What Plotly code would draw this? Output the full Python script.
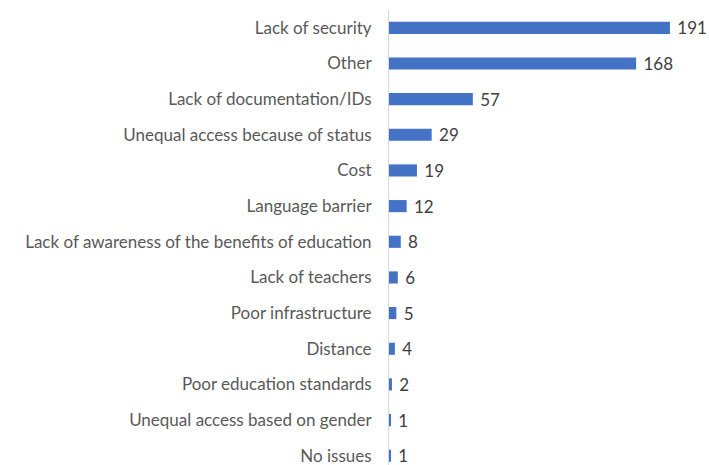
import plotly.graph_objects as go

categories = ["Lack of security", "Other", "Lack of documentation/IDs",
              "Unequal access because of status", "Cost", "Language barrier",
              "Lack of awareness of the benefits of education", "Lack of teachers",
              "Poor infrastructure", "Distance", "Poor education standards",
              "Unequal access based on gender", "No issues"]
values = [191, 168, 57, 29, 19, 12, 8, 6, 5, 4, 2, 1, 1]

FONT = "Lato"

fig = go.Figure(go.Bar(
    y=categories, x=values, orientation="h",
    marker=dict(color="#4472C4", line=dict(width=0)),
    text=[" " + str(v) for v in values], textposition="outside",
    textfont=dict(color="#404040", size=17, family=FONT),
    constraintext="none",
    cliponaxis=False, width=0.34,
))

fig.update_layout(
    width=709, height=465,
    margin=dict(l=389, r=17, t=10, b=0, autoexpand=False),
    paper_bgcolor="white", plot_bgcolor="white",
    font=dict(family=FONT, size=17.5, color="#595959"),
    showlegend=False,
    xaxis=dict(range=[0, 206], showgrid=False, zeroline=False, showticklabels=False,
               showline=False),
    yaxis=dict(range=[12.26, -0.5], showline=True, linecolor="#d9d9d9", linewidth=1,
               ticks="", ticklabelstandoff=13, showgrid=False,
               tickfont=dict(size=17, color="#595959", family=FONT)),
)

fig.write_html(
    "out.html",
    config={"displayModeBar": False},
    post_script="document.body.style.margin='0';document.body.style.overflow='hidden';",
)
